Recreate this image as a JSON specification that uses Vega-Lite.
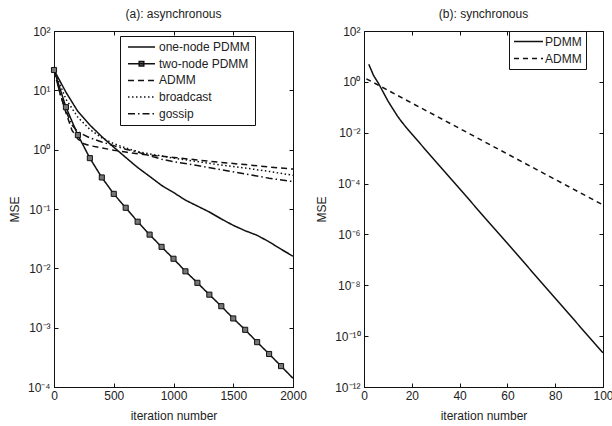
{
  "$schema": "https://vega.github.io/schema/vega-lite/v6.json",
  "padding": {"left": 7, "top": 7, "right": 0, "bottom": 3},
  "spacing": 8,
  "resolve": {"scale": {"strokeDash": "independent"}, "legend": {"strokeDash": "independent"}},
  "datasets": {
    "async": [
      {"series": "one-node PDMM", "iter": 0, "mse": 22},
      {"series": "one-node PDMM", "iter": 100, "mse": 9.3},
      {"series": "one-node PDMM", "iter": 200, "mse": 4.4},
      {"series": "one-node PDMM", "iter": 300, "mse": 2.6},
      {"series": "one-node PDMM", "iter": 400, "mse": 1.66},
      {"series": "one-node PDMM", "iter": 500, "mse": 1.1},
      {"series": "one-node PDMM", "iter": 600, "mse": 0.74},
      {"series": "one-node PDMM", "iter": 700, "mse": 0.5},
      {"series": "one-node PDMM", "iter": 800, "mse": 0.355},
      {"series": "one-node PDMM", "iter": 900, "mse": 0.25},
      {"series": "one-node PDMM", "iter": 1000, "mse": 0.19},
      {"series": "one-node PDMM", "iter": 1100, "mse": 0.141},
      {"series": "one-node PDMM", "iter": 1200, "mse": 0.112},
      {"series": "one-node PDMM", "iter": 1300, "mse": 0.089},
      {"series": "one-node PDMM", "iter": 1400, "mse": 0.068},
      {"series": "one-node PDMM", "iter": 1500, "mse": 0.053},
      {"series": "one-node PDMM", "iter": 1600, "mse": 0.043},
      {"series": "one-node PDMM", "iter": 1700, "mse": 0.036},
      {"series": "one-node PDMM", "iter": 1800, "mse": 0.028},
      {"series": "one-node PDMM", "iter": 1900, "mse": 0.021},
      {"series": "one-node PDMM", "iter": 2000, "mse": 0.016},
      {"series": "two-node PDMM", "iter": 0, "mse": 22},
      {"series": "two-node PDMM", "iter": 100, "mse": 5.2},
      {"series": "two-node PDMM", "iter": 200, "mse": 1.76},
      {"series": "two-node PDMM", "iter": 300, "mse": 0.72},
      {"series": "two-node PDMM", "iter": 400, "mse": 0.34},
      {"series": "two-node PDMM", "iter": 500, "mse": 0.18},
      {"series": "two-node PDMM", "iter": 600, "mse": 0.105},
      {"series": "two-node PDMM", "iter": 700, "mse": 0.061},
      {"series": "two-node PDMM", "iter": 800, "mse": 0.037},
      {"series": "two-node PDMM", "iter": 900, "mse": 0.023},
      {"series": "two-node PDMM", "iter": 1000, "mse": 0.0145},
      {"series": "two-node PDMM", "iter": 1100, "mse": 0.0089},
      {"series": "two-node PDMM", "iter": 1200, "mse": 0.0057},
      {"series": "two-node PDMM", "iter": 1300, "mse": 0.0036},
      {"series": "two-node PDMM", "iter": 1400, "mse": 0.0023},
      {"series": "two-node PDMM", "iter": 1500, "mse": 0.00143},
      {"series": "two-node PDMM", "iter": 1600, "mse": 0.00092},
      {"series": "two-node PDMM", "iter": 1700, "mse": 0.00057},
      {"series": "two-node PDMM", "iter": 1800, "mse": 0.00036},
      {"series": "two-node PDMM", "iter": 1900, "mse": 0.000225},
      {"series": "two-node PDMM", "iter": 2000, "mse": 0.00014},
      {"series": "ADMM", "iter": 0, "mse": 22},
      {"series": "ADMM", "iter": 50, "mse": 8.9},
      {"series": "ADMM", "iter": 100, "mse": 4.2},
      {"series": "ADMM", "iter": 150, "mse": 2.14},
      {"series": "ADMM", "iter": 200, "mse": 1.51},
      {"series": "ADMM", "iter": 250, "mse": 1.26},
      {"series": "ADMM", "iter": 300, "mse": 1.17},
      {"series": "ADMM", "iter": 400, "mse": 1.07},
      {"series": "ADMM", "iter": 500, "mse": 0.98},
      {"series": "ADMM", "iter": 600, "mse": 0.91},
      {"series": "ADMM", "iter": 700, "mse": 0.85},
      {"series": "ADMM", "iter": 800, "mse": 0.81},
      {"series": "ADMM", "iter": 1000, "mse": 0.74},
      {"series": "ADMM", "iter": 1200, "mse": 0.67},
      {"series": "ADMM", "iter": 1400, "mse": 0.61},
      {"series": "ADMM", "iter": 1600, "mse": 0.56},
      {"series": "ADMM", "iter": 1800, "mse": 0.51},
      {"series": "ADMM", "iter": 2000, "mse": 0.47},
      {"series": "broadcast", "iter": 0, "mse": 22},
      {"series": "broadcast", "iter": 100, "mse": 7.1},
      {"series": "broadcast", "iter": 200, "mse": 3.5},
      {"series": "broadcast", "iter": 300, "mse": 2.2},
      {"series": "broadcast", "iter": 400, "mse": 1.58},
      {"series": "broadcast", "iter": 500, "mse": 1.26},
      {"series": "broadcast", "iter": 600, "mse": 1.07},
      {"series": "broadcast", "iter": 700, "mse": 0.93},
      {"series": "broadcast", "iter": 800, "mse": 0.85},
      {"series": "broadcast", "iter": 1000, "mse": 0.72},
      {"series": "broadcast", "iter": 1200, "mse": 0.63},
      {"series": "broadcast", "iter": 1400, "mse": 0.55},
      {"series": "broadcast", "iter": 1600, "mse": 0.49},
      {"series": "broadcast", "iter": 1800, "mse": 0.43},
      {"series": "broadcast", "iter": 2000, "mse": 0.37},
      {"series": "gossip", "iter": 0, "mse": 22},
      {"series": "gossip", "iter": 50, "mse": 8.9},
      {"series": "gossip", "iter": 100, "mse": 4.5},
      {"series": "gossip", "iter": 150, "mse": 2.6},
      {"series": "gossip", "iter": 200, "mse": 2.0},
      {"series": "gossip", "iter": 300, "mse": 1.58},
      {"series": "gossip", "iter": 400, "mse": 1.35},
      {"series": "gossip", "iter": 500, "mse": 1.17},
      {"series": "gossip", "iter": 600, "mse": 1.02},
      {"series": "gossip", "iter": 700, "mse": 0.91},
      {"series": "gossip", "iter": 800, "mse": 0.79},
      {"series": "gossip", "iter": 900, "mse": 0.69},
      {"series": "gossip", "iter": 1000, "mse": 0.63},
      {"series": "gossip", "iter": 1200, "mse": 0.54},
      {"series": "gossip", "iter": 1400, "mse": 0.46},
      {"series": "gossip", "iter": 1600, "mse": 0.39},
      {"series": "gossip", "iter": 1800, "mse": 0.33},
      {"series": "gossip", "iter": 2000, "mse": 0.29}
    ],
    "sync": [
      {"series": "PDMM", "iter": 2, "mse": 4.9},
      {"series": "PDMM", "iter": 4, "mse": 1.78},
      {"series": "PDMM", "iter": 6, "mse": 0.89},
      {"series": "PDMM", "iter": 8, "mse": 0.4},
      {"series": "PDMM", "iter": 10, "mse": 0.178},
      {"series": "PDMM", "iter": 12, "mse": 0.089},
      {"series": "PDMM", "iter": 14, "mse": 0.045},
      {"series": "PDMM", "iter": 16, "mse": 0.025},
      {"series": "PDMM", "iter": 18, "mse": 0.0148},
      {"series": "PDMM", "iter": 20, "mse": 0.0089},
      {"series": "PDMM", "iter": 30, "mse": 0.00074},
      {"series": "PDMM", "iter": 40, "mse": 6.3e-5},
      {"series": "PDMM", "iter": 50, "mse": 5.2e-6},
      {"series": "PDMM", "iter": 60, "mse": 4.5e-7},
      {"series": "PDMM", "iter": 70, "mse": 3.7e-8},
      {"series": "PDMM", "iter": 80, "mse": 3.1e-9},
      {"series": "PDMM", "iter": 90, "mse": 2.6e-10},
      {"series": "PDMM", "iter": 100, "mse": 2.2e-11},
      {"series": "ADMM", "iter": 1, "mse": 1.32},
      {"series": "ADMM", "iter": 10, "mse": 0.467},
      {"series": "ADMM", "iter": 20, "mse": 0.147},
      {"series": "ADMM", "iter": 30, "mse": 0.0465},
      {"series": "ADMM", "iter": 40, "mse": 0.0147},
      {"series": "ADMM", "iter": 50, "mse": 0.00462},
      {"series": "ADMM", "iter": 60, "mse": 0.00146},
      {"series": "ADMM", "iter": 70, "mse": 0.00046},
      {"series": "ADMM", "iter": 80, "mse": 0.000145},
      {"series": "ADMM", "iter": 90, "mse": 4.58e-5},
      {"series": "ADMM", "iter": 100, "mse": 1.45e-5}
    ]
  },
  "hconcat": [
    {
      "width": 239,
      "height": 356,
      "title": {"text": "(a): asynchronous"},
      "data": {"name": "async"},
      "layer": [
        {
          "mark": {"type": "line", "color": "#111", "strokeWidth": 1.5},
          "encoding": {
            "x": {"field": "iter", "type": "quantitative", "title": "iteration number",
              "scale": {"domain": [0, 2000], "nice": false},
              "axis": {"orient": "bottom", "values": [0, 500, 1000, 1500, 2000], "format": "d", "labelFlush": false, "labelPadding": 7, "titlePadding": 9}},
            "y": {"field": "mse", "type": "quantitative", "title": "MSE",
              "scale": {"type": "log", "domain": [0.0001, 100], "nice": false},
              "axis": {"orient": "left", "values": [0.0001, 0.001, 0.01, 0.1, 1, 10, 100], "labelPadding": 8, "titlePadding": 6,
                "labelExpr": "'10' + replace(replace(replace(replace(replace(replace(replace(replace(replace(replace(replace(toString(round(log(datum.value)/LN10)),'-','⁻'),'0','⁰'),'1','¹'),'2','²'),'3','³'),'4','⁴'),'5','⁵'),'6','⁶'),'7','⁷'),'8','⁸'),'9','⁹')"}},
            "strokeDash": {"field": "series", "type": "nominal",
              "scale": {"domain": ["one-node PDMM", "two-node PDMM", "ADMM", "broadcast", "gossip"],
                "range": [[1, 0], [1, 0], [6, 4], [1.5, 2.5], [7, 3, 1.5, 3]]},
              "legend": {"orient": "none", "legendX": 66, "legendY": 5, "title": null,
                "symbolType": "stroke", "symbolSize": 729, "symbolStrokeWidth": 1.5, "symbolStrokeColor": "#111",
                "padding": 4.5, "symbolOffset": 2.5, "labelOffset": 3, "clipHeight": 13, "rowPadding": 3.7,
                "labelFontSize": 12, "labelColor": "#222", "strokeColor": "#111", "fillColor": "white",
                "labelExpr": "datum.label + '\u00a0\u00a0\u00a0\u00a0\u00a0\u00a0\u00a0\u00a0\u00a0\u00a0\u00a0\u00a0'",
                "encoding": {"symbols": {
                  "stroke": {"value": "#111"},
                  "strokeWidth": {"value": 1.5},
                  "shape": {"condition": {"test": "datum.value === 'two-node PDMM'", "value": "M-1,0H1M-0.17,-0.17H0.17V0.17H-0.17Z"}, "value": "stroke"},
                  "fill": {"condition": {"test": "datum.value === 'two-node PDMM'", "value": "#777"}, "value": "transparent"}
                }}}
            }
          }
        },
        {
          "transform": [{"filter": "datum.series === 'two-node PDMM' && datum.iter < 2000"}],
          "mark": {"type": "point", "shape": "square", "filled": true, "fill": "#777", "stroke": "#111", "strokeWidth": 1, "size": 26, "opacity": 1},
          "encoding": {
            "x": {"field": "iter", "type": "quantitative",
              "axis": {"orient": "top", "values": [0, 500, 1000, 1500, 2000], "labels": false, "title": null, "domain": false}},
            "y": {"field": "mse", "type": "quantitative",
              "axis": {"orient": "right", "values": [0.0001, 0.001, 0.01, 0.1, 1, 10, 100], "labels": false, "title": null, "domain": false}}
          }
        }
      ],
      "resolve": {"axis": {"x": "independent", "y": "independent"}}
    },
    {
      "width": 239,
      "height": 356,
      "title": {"text": "(b): synchronous"},
      "data": {"name": "sync"},
      "layer": [
        {
          "transform": [{"filter": "datum.series === 'PDMM'"}],
          "mark": {"type": "line", "color": "#111", "strokeWidth": 1.5},
          "encoding": {
            "x": {"field": "iter", "type": "quantitative", "title": "iteration number",
              "scale": {"domain": [0, 100], "nice": false},
              "axis": {"orient": "bottom", "values": [0, 20, 40, 60, 80, 100], "format": "d", "labelFlush": false, "labelPadding": 7, "titlePadding": 9}},
            "y": {"field": "mse", "type": "quantitative", "title": "MSE",
              "scale": {"type": "log", "domain": [1e-12, 100], "nice": false},
              "axis": {"orient": "left", "values": [1e-12, 1e-10, 1e-8, 1e-6, 0.0001, 0.01, 1, 100], "labelPadding": 8, "titlePadding": 6,
                "labelExpr": "'10' + replace(replace(replace(replace(replace(replace(replace(replace(replace(replace(replace(toString(round(log(datum.value)/LN10)),'-','⁻'),'0','⁰'),'1','¹'),'2','²'),'3','³'),'4','⁴'),'5','⁵'),'6','⁶'),'7','⁷'),'8','⁸'),'9','⁹')"}},
            "strokeDash": {"field": "series", "type": "nominal",
              "scale": {"domain": ["PDMM", "ADMM"], "range": [[1, 0], [5, 4]]},
              "legend": {"orient": "none", "legendX": 145, "legendY": 0, "title": null,
                "symbolType": "stroke", "symbolSize": 841, "symbolStrokeWidth": 1.5, "symbolStrokeColor": "#111",
                "padding": 4, "symbolOffset": 0, "labelOffset": 1, "clipHeight": 13, "rowPadding": 4,
                "labelFontSize": 12, "labelColor": "#222", "strokeColor": "#111", "fillColor": "white",
                "labelExpr": "datum.label + '\u00a0\u00a0\u00a0\u00a0\u00a0'",
                "encoding": {"symbols": {"stroke": {"value": "#111"}, "strokeWidth": {"value": 1.5}}}}
            }
          }
        },
        {
          "transform": [{"filter": "datum.series === 'ADMM'"}],
          "mark": {"type": "line", "color": "#111", "strokeWidth": 1.5},
          "encoding": {
            "x": {"field": "iter", "type": "quantitative",
              "axis": {"orient": "top", "values": [0, 20, 40, 60, 80, 100], "labels": false, "title": null, "domain": false}},
            "y": {"field": "mse", "type": "quantitative",
              "axis": {"orient": "right", "values": [1e-12, 1e-10, 1e-8, 1e-6, 0.0001, 0.01, 1, 100], "labels": false, "title": null, "domain": false}},
            "strokeDash": {"field": "series", "type": "nominal",
              "scale": {"domain": ["PDMM", "ADMM"], "range": [[1, 0], [5, 4]]},
              "legend": {"orient": "none", "legendX": 145, "legendY": 0, "title": null,
                "symbolType": "stroke", "symbolSize": 841, "symbolStrokeWidth": 1.5, "symbolStrokeColor": "#111",
                "padding": 4, "symbolOffset": 0, "labelOffset": 1, "clipHeight": 13, "rowPadding": 4,
                "labelFontSize": 12, "labelColor": "#222", "strokeColor": "#111", "fillColor": "white",
                "labelExpr": "datum.label + '\u00a0\u00a0\u00a0\u00a0\u00a0'",
                "encoding": {"symbols": {"stroke": {"value": "#111"}, "strokeWidth": {"value": 1.5}}}}
            }
          }
        }
      ],
      "resolve": {"axis": {"x": "independent", "y": "independent"}}
    }
  ],
  "config": {
    "font": "Liberation Sans",
    "view": {"stroke": "#111", "strokeWidth": 1},
    "axis": {"grid": false, "domainColor": "#111", "tickColor": "#111", "tickSize": -4, "labelFontSize": 12, "labelColor": "#222",
      "titleFontSize": 12, "titleFontWeight": "normal", "titleColor": "#222", "labelOverlap": false},
    "title": {"fontSize": 12, "fontWeight": "normal", "color": "#222", "offset": 4},
    "legend": {"labelFont": "Liberation Sans"}
  }
}
